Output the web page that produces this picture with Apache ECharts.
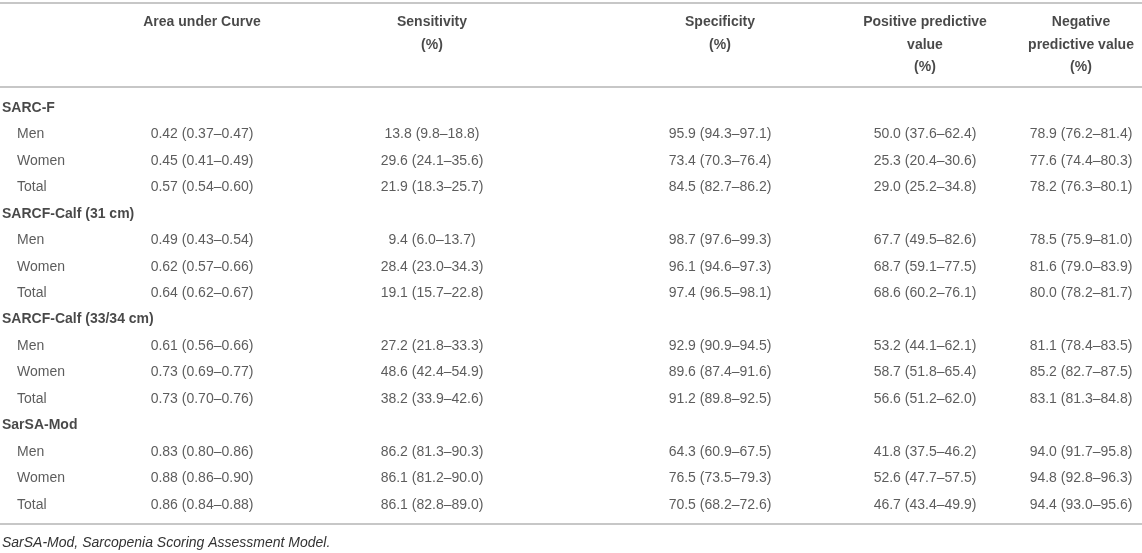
<!DOCTYPE html>
<html>
<head>
<meta charset="utf-8">
<script src="https://cdn.jsdelivr.net/npm/echarts@6/dist/echarts.min.js"></script>
<style>html,body{margin:0;padding:0;background:#fff}#c{width:1142px;height:553px}</style>
</head>
<body>
<div id="c"></div>
<script>
// ---- data ----
const groups = ['SARC-F', 'SARCF-Calf (31 cm)', 'SARCF-Calf (33/34 cm)', 'SarSA-Mod'];
const subgroups = ['Men', 'Women', 'Total'];
const headers = ['Area under Curve', 'Sensitivity\n(%)', 'Specificity\n(%)', 'Positive predictive\nvalue\n(%)', 'Negative\npredictive value\n(%)'];
// each entry: [estimate, lower, upper], order: group x (Men, Women, Total)
const auc = [
  [0.42, 0.37, 0.47], [0.45, 0.41, 0.49], [0.57, 0.54, 0.60],
  [0.49, 0.43, 0.54], [0.62, 0.57, 0.66], [0.64, 0.62, 0.67],
  [0.61, 0.56, 0.66], [0.73, 0.69, 0.77], [0.73, 0.70, 0.76],
  [0.83, 0.80, 0.86], [0.88, 0.86, 0.90], [0.86, 0.84, 0.88]
];
const sensitivity = [
  [13.8, 9.8, 18.8], [29.6, 24.1, 35.6], [21.9, 18.3, 25.7],
  [9.4, 6.0, 13.7], [28.4, 23.0, 34.3], [19.1, 15.7, 22.8],
  [27.2, 21.8, 33.3], [48.6, 42.4, 54.9], [38.2, 33.9, 42.6],
  [86.2, 81.3, 90.3], [86.1, 81.2, 90.0], [86.1, 82.8, 89.0]
];
const specificity = [
  [95.9, 94.3, 97.1], [73.4, 70.3, 76.4], [84.5, 82.7, 86.2],
  [98.7, 97.6, 99.3], [96.1, 94.6, 97.3], [97.4, 96.5, 98.1],
  [92.9, 90.9, 94.5], [89.6, 87.4, 91.6], [91.2, 89.8, 92.5],
  [64.3, 60.9, 67.5], [76.5, 73.5, 79.3], [70.5, 68.2, 72.6]
];
const ppv = [
  [50.0, 37.6, 62.4], [25.3, 20.4, 30.6], [29.0, 25.2, 34.8],
  [67.7, 49.5, 82.6], [68.7, 59.1, 77.5], [68.6, 60.2, 76.1],
  [53.2, 44.1, 62.1], [58.7, 51.8, 65.4], [56.6, 51.2, 62.0],
  [41.8, 37.5, 46.2], [52.6, 47.7, 57.5], [46.7, 43.4, 49.9]
];
const npv = [
  [78.9, 76.2, 81.4], [77.6, 74.4, 80.3], [78.2, 76.3, 80.1],
  [78.5, 75.9, 81.0], [81.6, 79.0, 83.9], [80.0, 78.2, 81.7],
  [81.1, 78.4, 83.5], [85.2, 82.7, 87.5], [83.1, 81.3, 84.8],
  [94.0, 91.7, 95.8], [94.8, 92.8, 96.3], [94.4, 93.0, 95.6]
];
const footnote = 'SarSA-Mod, Sarcopenia Scoring Assessment Model.';

// ---- layout (not data) ----
const W = 1142;
const colCenters = [202, 432, 720, 925, 1081];
const groupX = 2, subX = 17;
const FONT = '"Liberation Sans", Arial, Helvetica, sans-serif';
const metrics = [auc, sensitivity, specificity, ppv, npv];
const decimals = [2, 1, 1, 1, 1];

const rowKeys = [];
const labelData = [];
const cellData = [];
groups.forEach((g, gi) => {
  const gk = 'g' + gi;
  rowKeys.push(gk);
  labelData.push({ value: [groupX, gk], name: g, bold: true });
  subgroups.forEach((s, si) => {
    const k = gk + '-' + s;
    rowKeys.push(k);
    labelData.push({ value: [subX, k], name: s, bold: false });
    const idx = gi * 3 + si;
    metrics.forEach((m, mi) => {
      const d = decimals[mi];
      const v = m[idx];
      cellData.push({ value: [colCenters[mi], k], name: v[0].toFixed(d) + ' (' + v[1].toFixed(d) + '–' + v[2].toFixed(d) + ')' });
    });
  });
});

const ruleStyle = { show: true, lineStyle: { color: '#b5b5b5', width: 1.6 } };
const hiddenX = (gridIndex, position, offset, showLine) => ({
  type: 'value', gridIndex, position, offset: offset || 0, min: 0, max: W,
  axisLine: showLine ? ruleStyle : { show: false }, axisTick: { show: false },
  axisLabel: { show: false }, splitLine: { show: false }
});

const chart = echarts.init(document.getElementById('c'), null, { renderer: 'canvas' });
chart.setOption({
  animation: false,
  backgroundColor: '#ffffff',
  title: {
    text: footnote, left: 2, top: 536, padding: 0,
    textStyle: { fontFamily: FONT, fontSize: 14, fontStyle: 'italic', fontWeight: 'normal', color: '#333' }
  },
  grid: [
    { left: 0, right: 0, top: 94.8, bottom: 35 },
    { left: 0, right: 0, top: 3, height: 84 }
  ],
  xAxis: [
    hiddenX(0, 'bottom', 6, true),
    hiddenX(1, 'top', 0, true),
    hiddenX(1, 'bottom', 0, true)
  ],
  yAxis: [
    { type: 'category', gridIndex: 0, inverse: true, data: rowKeys, show: false },
    { type: 'category', gridIndex: 1, data: ['header'], show: false }
  ],
  series: [
    {
      type: 'scatter', xAxisIndex: 0, yAxisIndex: 0, symbolSize: 0, clip: false, silent: true,
      data: labelData.map(d => ({
        value: d.value, name: d.name,
        label: { fontWeight: d.bold ? 'bold' : 'normal', color: d.bold ? '#1a1a1a' : '#333' }
      })),
      label: {
        show: true, position: 'inside', align: 'left', verticalAlign: 'middle',
        fontFamily: FONT, fontSize: 14, formatter: p => p.name
      }
    },
    {
      type: 'scatter', xAxisIndex: 0, yAxisIndex: 0, symbolSize: 0, clip: false, silent: true,
      data: cellData,
      label: {
        show: true, position: 'inside', align: 'center', verticalAlign: 'middle',
        fontFamily: FONT, fontSize: 14, color: '#333', formatter: p => p.name
      }
    },
    {
      type: 'scatter', xAxisIndex: 1, yAxisIndex: 1, symbolSize: 0, clip: false, silent: true,
      data: headers.map((h, i) => ({ value: [colCenters[i], 'header'], name: h })),
      label: {
        show: true, position: 'inside', align: 'center', verticalAlign: 'top', offset: [0, -34],
        lineHeight: 22.5, fontFamily: FONT, fontSize: 14, fontWeight: 'bold', color: '#1a1a1a',
        formatter: p => p.name
      }
    }
  ]
});
</script>
</body>
</html>
